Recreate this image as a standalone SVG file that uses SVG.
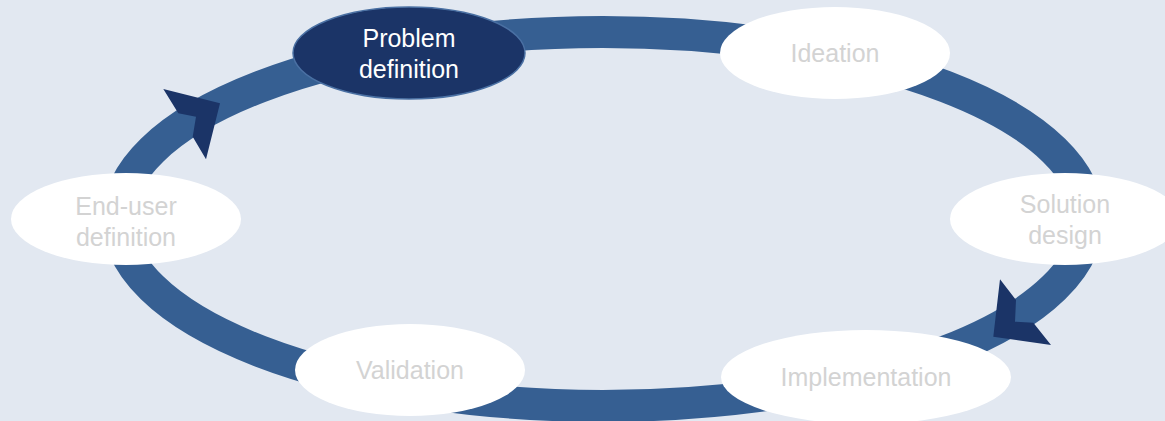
<svg xmlns="http://www.w3.org/2000/svg" width="1165" height="421" viewBox="0 0 1165 421">
  <style>
    .ring { fill: none; stroke: #365F92; stroke-width: 32; }
    .arrow { fill: #1B3467; }
    .node { fill: #FFFFFF; }
    .active { fill: #1B3467; stroke: #4A70A3; stroke-width: 1.5; }
    .lbl { font-family: "Liberation Sans", Arial, sans-serif; font-size: 25px; fill: #D3D3D3; text-anchor: middle; }
    .lbl-active { font-family: "Liberation Sans", Arial, sans-serif; font-size: 25px; fill: #FFFFFF; text-anchor: middle; }
  </style>
  <rect x="0" y="0" width="1165" height="421" fill="#E2E8F1"/>
  <g id="connectors">
    <ellipse class="ring" cx="603" cy="219" rx="485" ry="187"/>
    <polygon class="arrow" points="163.3,89 220,103.3 206,159.3 192.7,136.7 196,116.7 178.3,113.3"/>
    <polygon class="arrow" points="1000,279.3 1016,300 1015,321.7 1033.3,322.7 1051,345 993.3,336.7"/>
  </g>
  <g id="problem-definition">
    <ellipse class="active" cx="409" cy="53" rx="116" ry="46"/>
    <text class="lbl-active" x="409" y="47">Problem</text>
    <text class="lbl-active" x="409" y="78">definition</text>
  </g>
  <g id="ideation">
    <ellipse class="node" cx="835" cy="53" rx="115" ry="46"/>
    <text class="lbl" x="835" y="62">Ideation</text>
  </g>
  <g id="solution-design">
    <ellipse class="node" cx="1065" cy="219" rx="115" ry="46"/>
    <text class="lbl" x="1065" y="213">Solution</text>
    <text class="lbl" x="1065" y="244">design</text>
  </g>
  <g id="implementation">
    <ellipse class="node" cx="866" cy="377" rx="145" ry="47"/>
    <text class="lbl" x="866" y="386">Implementation</text>
  </g>
  <g id="validation">
    <ellipse class="node" cx="410" cy="370" rx="115" ry="46"/>
    <text class="lbl" x="410" y="379">Validation</text>
  </g>
  <g id="end-user-definition">
    <ellipse class="node" cx="126" cy="219" rx="115" ry="46"/>
    <text class="lbl" x="126" y="215">End-user</text>
    <text class="lbl" x="126" y="246">definition</text>
  </g>
</svg>
